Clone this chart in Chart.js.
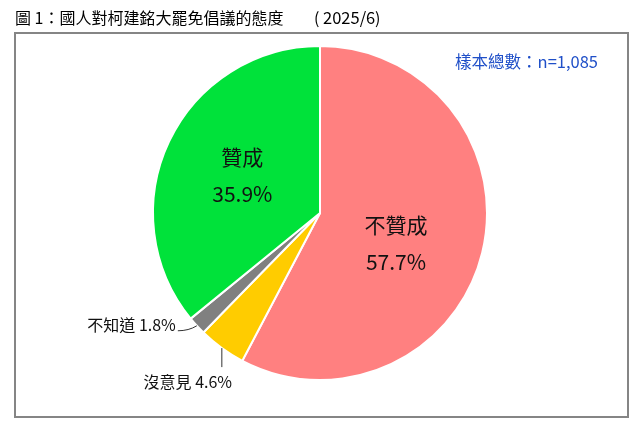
<!DOCTYPE html>
<html>
<head>
<meta charset="utf-8">
<script src="https://cdn.jsdelivr.net/npm/chart.js@4/dist/chart.umd.min.js"></script>
<style>
  html, body { margin: 0; padding: 0; background: #fff; }
  #wrap { width: 644px; height: 437px; position: relative; }
</style>
</head>
<body>
<div id="wrap"><canvas id="pie" width="644" height="437"></canvas></div>
<script>
// --- DATA ---
const categories = ['不贊成', '沒意見', '不知道', '贊成'];
const shares = [57.7, 4.6, 1.8, 35.9];
const sliceColors = ['#FF8080', '#FFCC00', '#808080', '#00E23A'];
const titleText = '圖 1：國人對柯建銘大罷免倡議的態度';
const titleDate = '2025/6';
const sampleText = '樣本總數：n=1,085';

const FONT = "'Noto Sans CJK TC', 'Noto Sans', sans-serif";

// inside labels: offset from pie centre as fraction of radius
const insideLabels = {
    0: { dx: 0.455, dy: 0.18 },
    3: { dx: -0.465, dy: -0.23 }
};

const decorPlugin = {
    id: 'decor',
    beforeDraw(chart) {
        const ctx = chart.ctx;
        ctx.save();
        ctx.fillStyle = '#fff';
        ctx.fillRect(0, 0, chart.width, chart.height);
        ctx.strokeStyle = '#858585';
        ctx.lineWidth = 2;
        ctx.strokeRect(15, 33, 613, 384);
        // title
        ctx.fillStyle = '#000';
        ctx.font = `16px ${FONT}`;
        ctx.textBaseline = 'middle';
        ctx.fillText(titleText, 15, 18);
        ctx.fillText('(', 314, 18);
        ctx.font = `16.5px ${FONT}`;
        ctx.fillText(titleDate, 323, 18);
        ctx.font = `16px ${FONT}`;
        ctx.fillText(')', 375, 18);
        // sample size
        ctx.fillStyle = '#1F4FC8';
        ctx.font = `16.5px ${FONT}`;
        ctx.textAlign = 'right';
        ctx.fillText(sampleText, 598, 62);
        ctx.restore();
    },
    afterDatasetsDraw(chart) {
        const ctx = chart.ctx;
        const arcs = chart.getDatasetMeta(0).data;
        const cx = arcs[0].x, cy = arcs[0].y, r = arcs[0].outerRadius;
        ctx.save();
        ctx.fillStyle = '#111';
        ctx.textAlign = 'center';
        ctx.textBaseline = 'middle';
        Object.keys(insideLabels).forEach(i => {
            const p = insideLabels[i];
            const x = cx + p.dx * r, y = cy + p.dy * r;
            ctx.font = `21px ${FONT}`;
            ctx.fillText(categories[i], x, y - 18);
            ctx.fillText(shares[i].toFixed(1) + '%', x, y + 19);
        });

        // small slices with leader lines
        ctx.strokeStyle = '#333';
        ctx.lineWidth = 1;
        ctx.font = `16px ${FONT}`;
        // 沒意見
        const a1 = arcs[1];
        const m1 = (a1.startAngle + a1.endAngle) / 2;
        const p1 = { x: cx + Math.cos(m1) * r, y: cy + Math.sin(m1) * r };
        ctx.beginPath();
        ctx.moveTo(p1.x, p1.y);
        ctx.lineTo(p1.x, p1.y + 19);
        ctx.stroke();
        ctx.fillText(`${categories[1]} ${shares[1].toFixed(1)}%`, p1.x - 34, p1.y + 34);
        // 不知道
        const a2 = arcs[2];
        const m2 = (a2.startAngle + a2.endAngle) / 2;
        const p2 = { x: cx + Math.cos(m2) * r, y: cy + Math.sin(m2) * r };
        ctx.beginPath();
        ctx.moveTo(p2.x, p2.y);
        ctx.quadraticCurveTo(p2.x - 8, p2.y + 5, p2.x - 19, p2.y + 5);
        ctx.stroke();
        ctx.textAlign = 'right';
        ctx.fillText(`${categories[2]} ${shares[2].toFixed(1)}%`, p2.x - 21, p2.y - 1);
        ctx.restore();
    }
};

new Chart(document.getElementById('pie'), {
    type: 'pie',
    data: {
        labels: categories,
        datasets: [{
            data: shares,
            backgroundColor: sliceColors,
            borderColor: '#fff',
            borderWidth: 2
        }]
    },
    options: {
        responsive: false,
        animation: false,
        layout: { padding: { top: 45, bottom: 56, left: 152, right: 156 } },
        plugins: {
            legend: { display: false },
            tooltip: { enabled: false }
        }
    },
    plugins: [decorPlugin]
});
</script>
</body>
</html>
